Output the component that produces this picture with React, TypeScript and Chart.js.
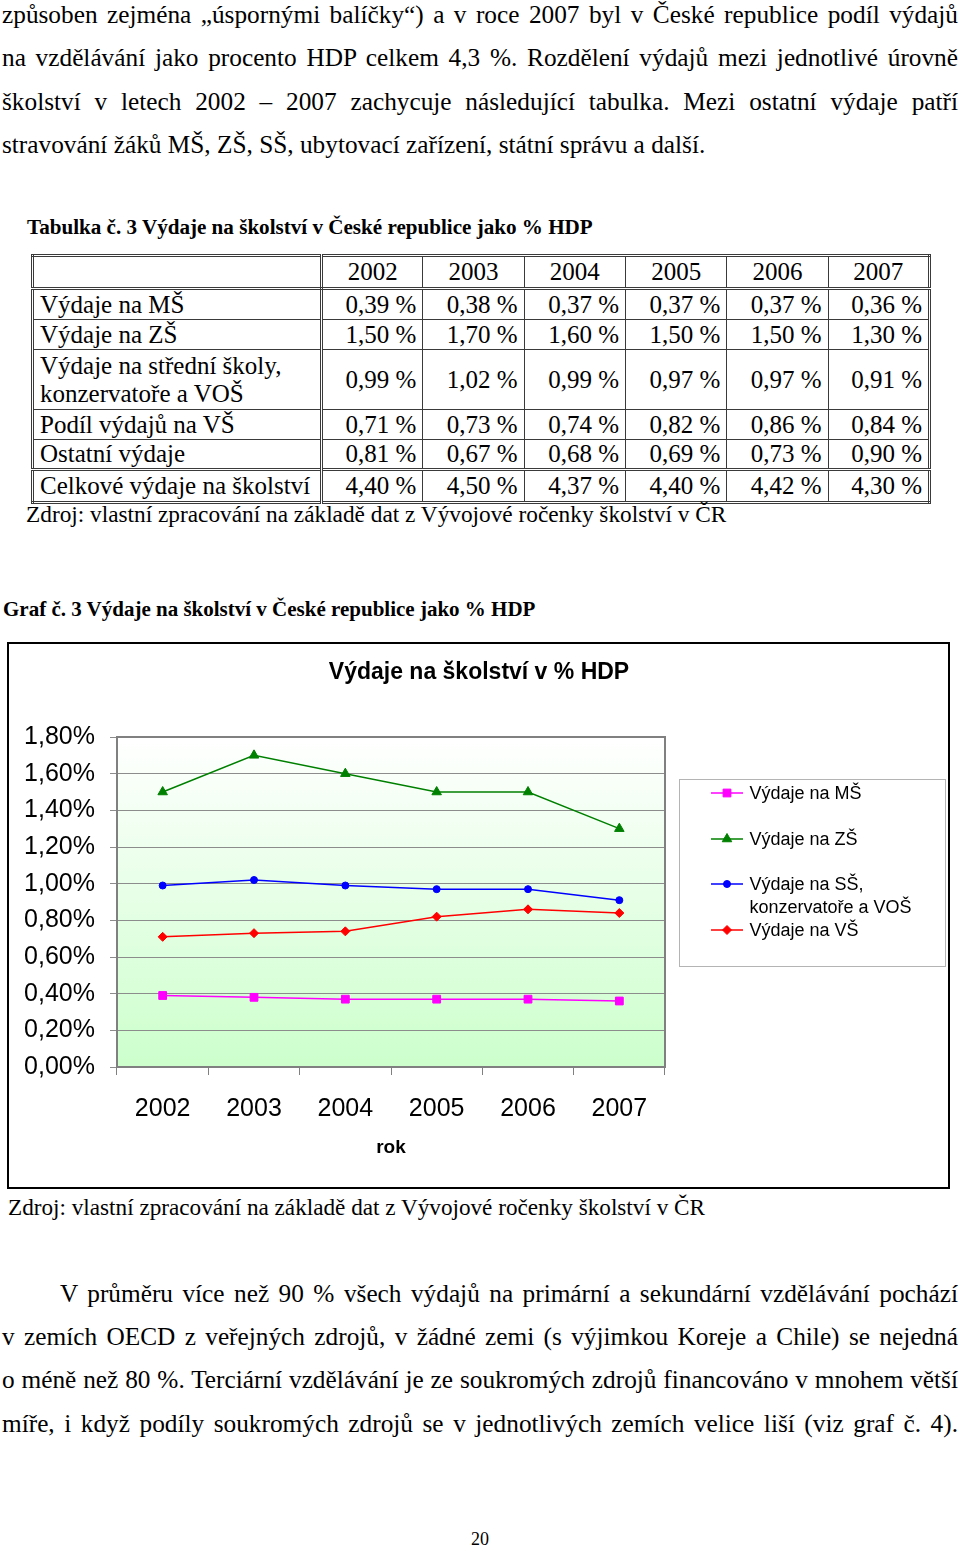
import React, { useEffect, useRef } from 'react';
import { Chart, registerables } from 'chart.js';
import { drawPoint } from 'chart.js/helpers';

Chart.register(...registerables);

// ---------- data ----------
const years = ['2002', '2003', '2004', '2005', '2006', '2007'];
const msValues = [0.39, 0.38, 0.37, 0.37, 0.37, 0.36];
const zsValues = [1.5, 1.7, 1.6, 1.5, 1.5, 1.3];
const ssValues = [0.99, 1.02, 0.99, 0.97, 0.97, 0.91];
const vsValues = [0.71, 0.73, 0.74, 0.82, 0.86, 0.84];
const otherValues = [0.81, 0.67, 0.68, 0.69, 0.73, 0.9];
const totalValues = [4.4, 4.5, 4.37, 4.4, 4.42, 4.3];
const yMin = 0;
const yMax = 1.8;
const yStep = 0.2;
const seriesLabels = ['Výdaje na MŠ', 'Výdaje na ZŠ', 'Výdaje na SŠ,\nkonzervatoře a VOŠ', 'Výdaje na VŠ'];
const tableRowLabels = [
  'Výdaje na MŠ',
  'Výdaje na ZŠ',
  'Výdaje na střední školy,\nkonzervatoře a VOŠ',
  'Podíl výdajů na VŠ',
  'Ostatní výdaje',
  'Celkové výdaje na školství',
];
const tableRows = [msValues, zsValues, ssValues, vsValues, otherValues, totalValues];
const chartTitle = 'Výdaje na školství v % HDP';
const xAxisTitle = 'rok';

const introLines = [
  'způsoben zejména „úspornými balíčky“) a v roce 2007 byl v České republice podíl výdajů',
  'na vzdělávání jako procento HDP celkem 4,3 %. Rozdělení výdajů mezi jednotlivé úrovně',
  'školství v letech 2002 – 2007 zachycuje následující tabulka. Mezi ostatní výdaje patří',
  'stravování žáků MŠ, ZŠ, SŠ, ubytovací zařízení, státní správu a další.',
];
const tableCaption = 'Tabulka č. 3 Výdaje na školství v České republice jako % HDP';
const sourceText = 'Zdroj: vlastní zpracování na základě dat z Vývojové ročenky školství v ČR';
const chartCaption = 'Graf č. 3 Výdaje na školství v České republice jako % HDP';
const outroLines = [
  'V průměru více než 90 % všech výdajů na primární a sekundární vzdělávání pochází',
  'v zemích OECD z veřejných zdrojů, v žádné zemi (s výjimkou Koreje a Chile) se nejedná',
  'o méně než 80 %. Terciární vzdělávání je ze soukromých zdrojů financováno v mnohem větší',
  'míře, i když podíly soukromých zdrojů se v jednotlivých zemích velice liší (viz graf č. 4).',
];
const pageNumber = '20';

// ---------- helpers ----------
const SERIF = '"Liberation Serif", "Times New Roman", serif';
const SANS = '"Liberation Sans", Arial, sans-serif';
const fmtPct = (v: number) => v.toFixed(2).replace('.', ',');

function TextLine(props: {
  text: string;
  baseline: number;
  left: number;
  width?: number;
  size: number;
  bold?: boolean;
  justify?: boolean;
  center?: boolean;
}) {
  const { text, baseline, left, width, size, bold, justify, center } = props;
  const L = Math.round(size * 1.2);
  const top = baseline - L / 2 - 0.3375 * size;
  const align = justify ? 'justify' : center ? 'center' : 'left';
  return (
    <div
      style={{
        position: 'absolute',
        left,
        top,
        width,
        fontFamily: SERIF,
        fontSize: size,
        lineHeight: `${L}px`,
        fontWeight: bold ? 'bold' : 'normal',
        textAlign: align as any,
        textAlignLast: align as any,
        whiteSpace: justify ? 'normal' : 'nowrap',
        color: '#000',
      }}
    >
      {text}
    </div>
  );
}

const decorPlugin = {
  id: 'decor',
  beforeDraw(chart: any) {
    const { ctx, chartArea: a, width, height } = chart;
    ctx.save();
    ctx.fillStyle = '#ffffff';
    ctx.fillRect(0, 0, width, height);
    const g = ctx.createLinearGradient(0, a.top, 0, a.bottom);
    g.addColorStop(0, '#ffffff');
    g.addColorStop(1, '#ccffcc');
    ctx.fillStyle = g;
    ctx.fillRect(a.left, a.top, a.right - a.left, a.bottom - a.top);
    ctx.restore();
  },
  beforeDatasetsDraw(chart: any) {
    const { ctx, chartArea: a } = chart;
    ctx.save();
    ctx.strokeStyle = '#808080';
    ctx.lineWidth = 2;
    ctx.strokeRect(a.left, a.top, a.right - a.left, a.bottom - a.top);
    ctx.restore();
  },
  afterDraw(chart: any) {
    const { ctx, width, height } = chart;
    ctx.save();
    // outer frame
    ctx.strokeStyle = '#000';
    ctx.lineWidth = 2;
    ctx.strokeRect(1, 1, width - 3, height - 2);
    // title
    ctx.fillStyle = '#000';
    ctx.font = `bold 23px ${SANS}`;
    ctx.textAlign = 'center';
    ctx.textBaseline = 'alphabetic';
    ctx.fillText(chartTitle, width / 2, 37);
    // legend box
    const bx = 672;
    const by = 137;
    const bw = 266;
    const bh = 187;
    ctx.strokeStyle = '#b4b4b4';
    ctx.lineWidth = 1;
    ctx.strokeRect(bx + 0.5, by + 0.5, bw, bh);
    const rowY = [151, 197, 242, 288];
    ctx.font = `18px ${SANS}`;
    ctx.textAlign = 'left';
    chart.data.datasets.forEach((ds: any, i: number) => {
      const y = rowY[i];
      ctx.strokeStyle = ds.borderColor;
      ctx.lineWidth = ds.borderWidth;
      ctx.beginPath();
      ctx.moveTo(704, y);
      ctx.lineTo(736, y);
      ctx.stroke();
      ctx.fillStyle = ds.backgroundColor;
      ctx.lineWidth = 1;
      drawPoint(ctx, { pointStyle: ds.pointStyle, radius: ds.pointRadius, rotation: 0, borderWidth: 1 } as any, 720, y);
      ctx.fillStyle = '#000';
      String(ds.label)
        .split('\n')
        .forEach((line: string, k: number) => {
          ctx.fillText(line, 742.5, y + 6 + k * 22.7);
        });
    });
    ctx.restore();
  },
};

function EduChart() {
  const ref = useRef<HTMLCanvasElement>(null);
  useEffect(() => {
    const canvas = ref.current!;
    const chart = new Chart(canvas, {
      type: 'line',
      data: {
        labels: years,
        datasets: [
          {
            label: seriesLabels[0],
            data: msValues,
            borderColor: '#ff00ff',
            backgroundColor: '#ff00ff',
            pointStyle: 'rect',
            pointRadius: 5.5,
            pointBorderWidth: 1,
            borderWidth: 1.5,
          },
          {
            label: seriesLabels[1],
            data: zsValues,
            borderColor: '#008000',
            backgroundColor: '#008000',
            pointStyle: 'triangle',
            pointRadius: 5.5,
            pointBorderWidth: 1,
            borderWidth: 1.5,
          },
          {
            label: seriesLabels[2],
            data: ssValues,
            borderColor: '#0000ff',
            backgroundColor: '#0000ff',
            pointStyle: 'circle',
            pointRadius: 3.5,
            pointBorderWidth: 1,
            borderWidth: 1.5,
          },
          {
            label: seriesLabels[3],
            data: vsValues,
            borderColor: '#ff0000',
            backgroundColor: '#ff0000',
            pointStyle: 'rectRot',
            pointRadius: 4.5,
            pointBorderWidth: 1,
            borderWidth: 1.5,
          },
        ],
      },
      options: {
        responsive: false,
        animation: false,
        devicePixelRatio: 1,
        events: [],
        layout: { padding: { top: 95, right: 286, left: 0, bottom: 0 } },
        plugins: {
          legend: { display: false },
          tooltip: { enabled: false },
          title: { display: false },
        },
        scales: {
          x: {
            offset: true,
            grid: { offset: true, drawOnChartArea: false, tickLength: 8, color: '#808080' },
            border: { display: false },
            ticks: { color: '#000', font: { family: SANS, size: 25 }, padding: 19, maxRotation: 0 },
            title: {
              display: true,
              text: xAxisTitle,
              color: '#000',
              font: { family: SANS, size: 19, weight: 'bold' },
              padding: { top: 0, bottom: 30 },
            },
            afterFit(scale: any) {
              scale.height = 122;
            },
          },
          y: {
            min: yMin,
            max: yMax,
            ticks: {
              stepSize: yStep,
              color: '#000',
              font: { family: SANS, size: 25 },
              padding: 15,
              callback: (v: any) => `${fmtPct(Number(v))}%`,
            },
            grid: { color: '#8c8c8c', tickLength: 7 },
            border: { display: false },
            afterFit(scale: any) {
              scale.width = 110;
            },
          },
        },
      } as any,
      plugins: [decorPlugin],
    });
    return () => chart.destroy();
  }, []);
  return (
    <canvas
      ref={ref}
      width={944}
      height={547}
      style={{ position: 'absolute', left: 7, top: 642, width: 944, height: 547, display: 'block' }}
    />
  );
}

function DataTable() {
  const line = '1px solid #3a3a3a';
  const dbl = '3px double #3a3a3a';
  const rowHeights = [31, 30, 60, 30, 30, 33];
  const cell: React.CSSProperties = {
    border: line,
    padding: '0 6px',
    lineHeight: '28px',
    verticalAlign: 'middle',
    whiteSpace: 'nowrap',
    color: '#000',
  };
  return (
    <table
      style={{
        position: 'absolute',
        left: 31,
        top: 254,
        width: 897,
        borderCollapse: 'collapse',
        tableLayout: 'fixed',
        border: dbl,
        fontFamily: SERIF,
        fontSize: 25,
      }}
    >
      <colgroup>
        <col style={{ width: 289 }} />
        {years.map((y) => (
          <col key={y} style={{ width: 101.33 }} />
        ))}
      </colgroup>
      <tbody>
        <tr style={{ height: 33 }}>
          <td style={{ ...cell, borderRight: dbl, borderBottom: dbl }} />
          {years.map((y) => (
            <td key={y} style={{ ...cell, textAlign: 'center', borderBottom: dbl }}>
              {y}
            </td>
          ))}
        </tr>
        {tableRows.map((vals, r) => {
          const isLast = r === tableRows.length - 1;
          const extra: React.CSSProperties = isLast ? { borderTop: dbl } : {};
          return (
            <tr key={r} style={{ height: rowHeights[r] }}>
              <td style={{ ...cell, ...extra, borderRight: dbl, whiteSpace: 'pre-line', paddingLeft: 6 }}>
                {tableRowLabels[r]}
              </td>
              {vals.map((v, c) => (
                <td key={c} style={{ ...cell, ...extra, textAlign: 'right' }}>
                  {`${fmtPct(v)} %`}
                </td>
              ))}
            </tr>
          );
        })}
      </tbody>
    </table>
  );
}

export default function App() {
  const introBase = [23, 66, 110, 153];
  const outroBase = [1302, 1345, 1388, 1432];
  return (
    <div style={{ position: 'absolute', left: 0, top: 0, width: 960, height: 1547, background: '#fff', overflow: 'hidden' }}>
      {introLines.map((t, i) => (
        <TextLine key={i} text={t} baseline={introBase[i]} left={2} width={956} size={25.3} justify={i < 3} />
      ))}
      <TextLine text={tableCaption} baseline={235} left={27} size={21.1} bold />
      <DataTable />
      <TextLine text={sourceText} baseline={522} left={26} size={23.3} />
      <TextLine text={chartCaption} baseline={617} left={3} size={21} bold />
      <EduChart />
      <TextLine text={sourceText} baseline={1215} left={8} size={23.2} />
      {outroLines.map((t, i) => (
        <TextLine
          key={i}
          text={t}
          baseline={outroBase[i]}
          left={i === 0 ? 60 : 2}
          width={i === 0 ? 898 : 956}
          size={25.3}
          justify
        />
      ))}
      <TextLine text={pageNumber} baseline={1545} left={430} width={100} size={18} center />
    </div>
  );
}
